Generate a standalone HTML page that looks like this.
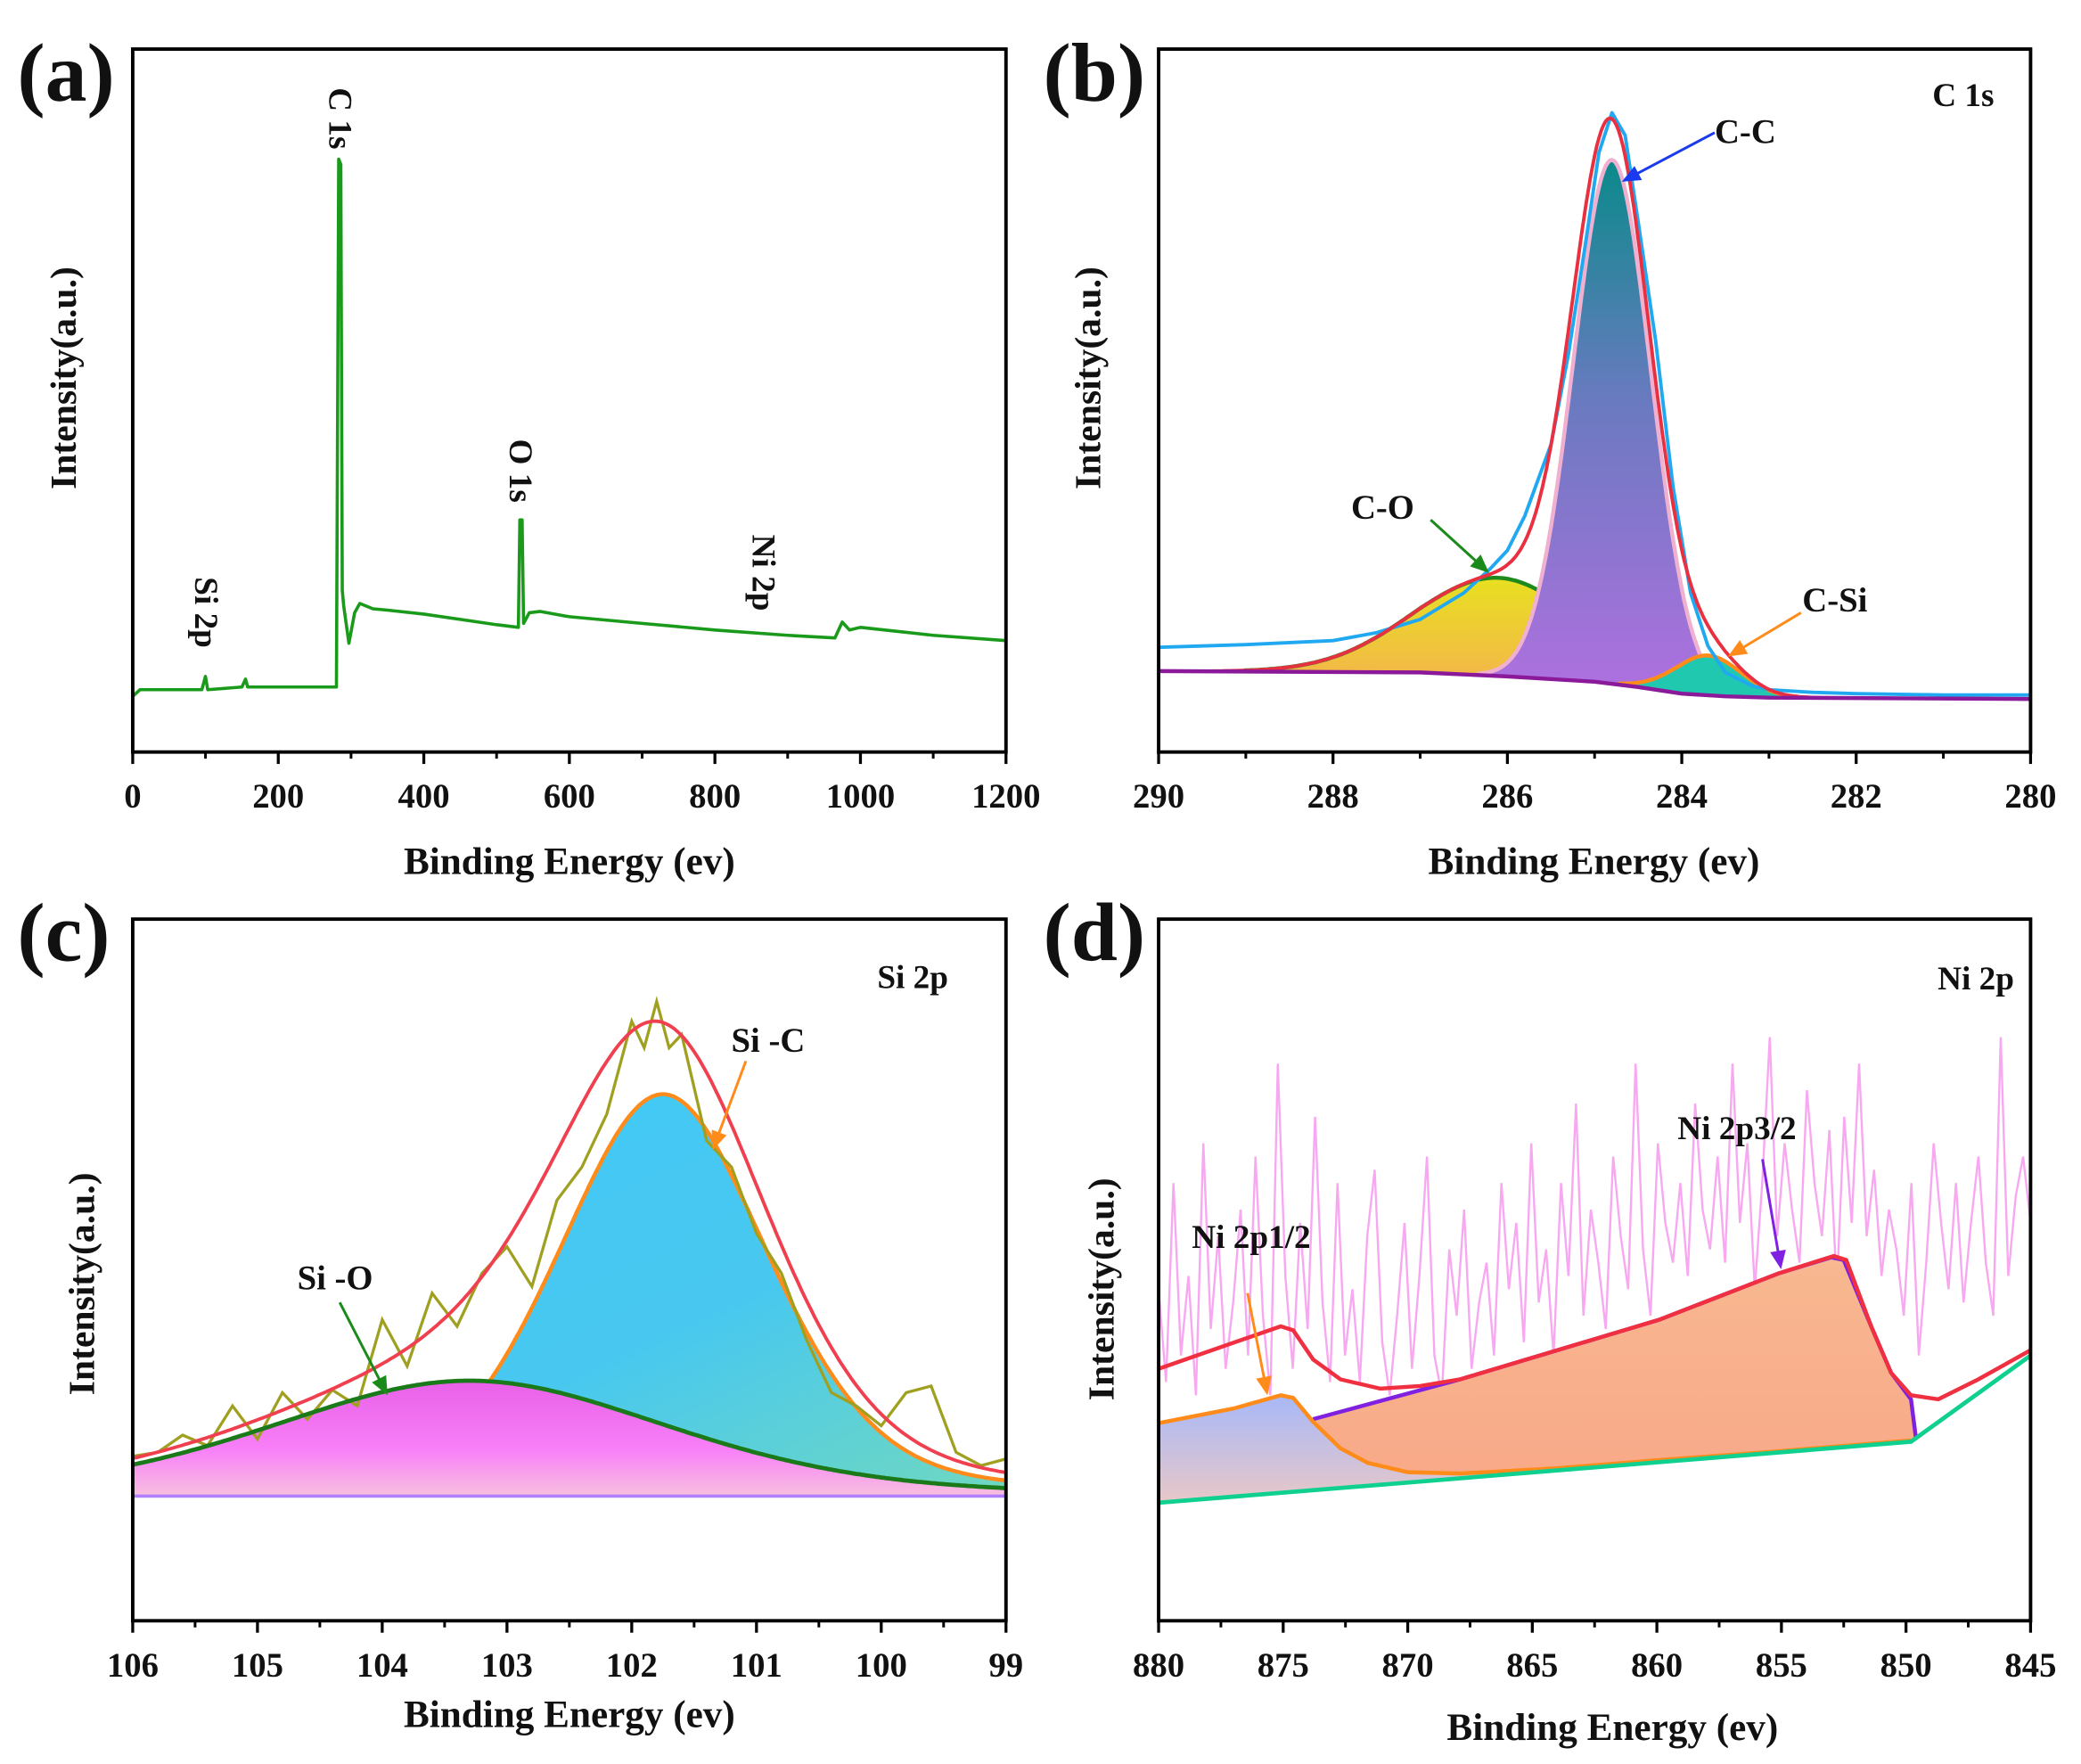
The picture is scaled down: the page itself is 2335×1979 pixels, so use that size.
<!DOCTYPE html>
<html><head><meta charset="utf-8"><style>
html,body{margin:0;padding:0;background:#fff}
svg{display:block}
text{font-family:"Liberation Serif",serif;font-weight:bold;fill:#111}
</style></head><body>
<svg id="fig" width="2335" height="1979" viewBox="0 0 1568 1330" preserveAspectRatio="none" xmlns="http://www.w3.org/2000/svg">
<defs>
<linearGradient id="gCC" x1="0" y1="0" x2="0" y2="1"><stop offset="0" stop-color="#0a8a8a"/><stop offset="0.45" stop-color="#6a7ac0"/><stop offset="1" stop-color="#b070e0"/></linearGradient>
<linearGradient id="gCO" x1="0" y1="0" x2="0" y2="1"><stop offset="0" stop-color="#e8e020"/><stop offset="1" stop-color="#f5b050"/></linearGradient>
<linearGradient id="gSiC" x1="0" y1="0" x2="1" y2="1"><stop offset="0" stop-color="#40c8f8"/><stop offset="0.6" stop-color="#48c8f0"/><stop offset="1" stop-color="#70d8c0"/></linearGradient>
<linearGradient id="gSiO" x1="0" y1="0" x2="0" y2="1"><stop offset="0" stop-color="#e860e8"/><stop offset="0.6" stop-color="#f880f8"/><stop offset="1" stop-color="#f8c0e0"/></linearGradient>
<linearGradient id="gN1" x1="0" y1="0" x2="0" y2="1"><stop offset="0" stop-color="#a8b8f8"/><stop offset="1" stop-color="#e8c8c8"/></linearGradient>
<linearGradient id="gN3" x1="0" y1="0" x2="0" y2="1"><stop offset="0" stop-color="#f8b890"/><stop offset="1" stop-color="#f8a888"/></linearGradient>
</defs>
</svg>
<script>
// ---------- DATA (values = intensity, arbitrary units) ----------
// Panel a: survey
const surveyE = [0,10,95,100,103,150,155,158,200,280,283,286,288,290,297,305,312,330,350,400,450,500,530,532,535,537,545,560,600,700,800,900,965,975,985,1000,1100,1200];
const surveyI = [42,47,47,57,47,49,55,49,49,49,447,443,122,110,82,105,112,108,107,104,100,96,94,175,175,97,105,106,102,97,92,88,86,98,92,94,88,84];
// Panel b: C 1s
const c1sRawE = [290,289,288,287.5,287,286.5,286.2,286,285.8,285.5,285.3,285.1,284.95,284.8,284.65,284.5,284.3,284.1,283.9,283.7,283.5,283.2,283,282.5,282,281,280];
const c1sRawI = [79,81,84,90,100,120,138,152,178,232,300,385,452,482,465,400,310,200,120,80,60,50,47,45,44,43,43];
const c1sBgE = [290,287,286,285,284.5,284,283.5,283,280];
const c1sBgI = [61,60,57,53,49,44,42,41,40];
const c1sPeakNames = ["C-C","C-O","C-Si"];
const c1sCenters = [284.8,286.1,283.7];
const c1sHeights = [395,74,30];
const c1sFwhm = [1.05,2.3,0.9];
// Panel c: Si 2p
const si2pRawE = [106,105.8,105.6,105.4,105.2,105,104.8,104.6,104.4,104.2,104,103.8,103.6,103.4,103.2,103,102.8,102.6,102.4,102.2,102,101.9,101.8,101.7,101.6,101.4,101.2,101,100.8,100.6,100.4,100.2,100,99.8,99.6,99.4,99.2,99];
const si2pRawI = [124,127,140,132,162,137,172,152,174,162,227,192,247,222,262,282,252,317,342,382,452,432,467,432,442,362,342,292,262,212,172,162,147,172,177,127,117,122];
const si2pBase = 94;
const si2pPeakNames = ["Si -O","Si -C"];
const si2pCenters = [103.3,101.75];
const si2pHeights = [87,303];
const si2pFwhm = [3.8,2.0];
const si2pLorentz = [0.3,0.3];
// Panel d: Ni 2p
const ni2pBgE = [880,849.8,845];
const ni2pBgI = [89,135,200];
const ni2p12E = [880,877,875.1,874.6,873.8,872.7,871.6,870,867.9,864,860,855,849.8];
const ni2p12I = [149,160,170,168,150,130,119,112,111,115,121,128,136];
const ni2p32E = [873.8,867.9,859.9,855.1,853,852.5,851.4,850.6,849.8,849.6];
const ni2p32I = [152,182,227,262,274,272,222,187,167,137];
const ni2pEnvE = [880,875.1,874.6,873.8,872.7,871.1,869.5,867.9,859.9,855.1,852.9,852.4,851.4,850.6,849.8,848.7,847.1,845];
const ni2pEnvI = [190,222,219,197,182,175,177,182,227,262,275,272,222,187,170,167,182,204];
const ni2pRawI = [250,180,330,200,260,170,360,220,290,190,240,310,200,350,230,170,420,260,190,300,220,380,240,180,330,200,250,180,290,340,210,170,230,300,190,260,350,200,170,280,230,310,190,240,270,200,330,250,300,210,360,240,280,200,330,260,390,230,310,270,220,350,290,250,420,280,230,360,300,270,330,260,390,310,280,350,270,420,300,360,250,330,440,290,360,310,270,400,330,290,370,250,380,300,420,290,340,260,310,280,230,330,200,270,360,300,250,330,240,300,350,270,230,440,260,320,350,300];

// ---------- HELPERS ----------
const svg = document.getElementById('fig');
const NS = 'http://www.w3.org/2000/svg';
function mk(tag, attrs, parent){const e=document.createElementNS(NS,tag);for(const k in attrs)e.setAttribute(k,attrs[k]);(parent||svg).appendChild(e);return e;}
function panel(L,R,T,B,x0,x1,yMax){return {L,R,T,B,x:v=>L+(v-x0)/(x1-x0)*(R-L),y:v=>B-v*(B-T)/yMax};}
function pathFrom(p,E,I){return E.map((e,i)=>(i?'L':'M')+p.x(e).toFixed(1)+' '+p.y(I[i]).toFixed(1)).join(' ');}
function interp(E,I,e){for(let i=0;i<E.length-1;i++){const a=E[i],b=E[i+1];if((e-a)*(e-b)<=0){const t=(e-a)/(b-a||1);return I[i]+t*(I[i+1]-I[i]);}}return Math.abs(e-E[0])<Math.abs(e-E[E.length-1])?I[0]:I[I.length-1];}
function gauss(e,c,h,f,m){const g=Math.exp(-4*Math.LN2*Math.pow((e-c)/f,2));const l=1/(1+Math.pow(2*(e-c)/f,2));return h*((1-(m||0))*g+(m||0)*l);}
function frame(p,ticks,minor,labels,name){
  const g=mk('g',{});  
  mk('rect',{x:p.L,y:p.T,width:p.R-p.L,height:p.B-p.T,fill:'none',stroke:'#000','stroke-width':2.6},g);
  minor.forEach(v=>mk('line',{x1:p.x(v),x2:p.x(v),y1:p.B,y2:p.B+5,stroke:'#000','stroke-width':2},g));
  ticks.forEach((v,i)=>{mk('line',{x1:p.x(v),x2:p.x(v),y1:p.B,y2:p.B+9,stroke:'#000','stroke-width':2.2},g);
    const t=mk('text',{x:p.x(v),y:p.B+42,'text-anchor':'middle','font-size':26},g);t.textContent=labels[i];
     });
}
function txt(x,y,s,size,name,rot,anchor){const t=mk('text',{x,y,'font-size':size,'text-anchor':anchor||'start'});if(rot)t.setAttribute('transform',`rotate(${rot} ${x} ${y})`);t.textContent=s;
   return t;}
function arrow(x1,y1,x2,y2,col,name){const g=mk('g',{});
  const a=Math.atan2(y2-y1,x2-x1),L=14,W=6;
  mk('line',{x1,y1,x2:x2-L*Math.cos(a)*0.8,y2:y2-L*Math.sin(a)*0.8,stroke:col,'stroke-width':2},g);
  mk('polygon',{points:`${x2},${y2} ${x2-L*Math.cos(a)+W*Math.sin(a)},${y2-L*Math.sin(a)-W*Math.cos(a)} ${x2-L*Math.cos(a)-W*Math.sin(a)},${y2-L*Math.sin(a)+W*Math.cos(a)}`,fill:col},g);}
function range(a,b,s){const r=[];for(let v=a;s>0?v<=b+1e-9:v>=b-1e-9;v+=s)r.push(+v.toFixed(3));return r;}
function dense(a,b,n){const r=[];for(let i=0;i<=n;i++)r.push(a+(b-a)*i/n);return r;}

// ---------- PANEL A ----------
const pa=panel(100,758,37,567,0,1200,530);
let e;
e=mk('path',{d:pathFrom(pa,surveyE,surveyI),fill:'none',stroke:'#1a9a1a','stroke-width':2.4,'stroke-linejoin':'round'});
 
frame(pa,range(0,1200,200),range(100,1100,200),range(0,1200,200).map(String),'panel-a');
txt(13,76,'(a)',63,'panel-a-letter');
txt(248,66,'C 1s',25,'c1s-peak-label',90);
txt(384,331,'O 1s',25,'o1s-peak-label',90);
txt(147,435,'Si 2p',25,'si2p-peak-label',90);
txt(567,403,'Ni 2p',25,'ni2p-peak-label',90);
txt(429,659,'Binding Energy (ev)',29,'panel-a-x-axis-title',0,'middle');
txt(57,285,'Intensity(a.u.)',28,'panel-a-y-axis-title',-90,'middle');

// ---------- PANEL B ----------
const pb=panel(873,1530,37,567,290,280,530);
const bE=dense(290,280,400);
const bBg=bE.map(v=>interp(c1sBgE,c1sBgI,v));
function compPoly(p,E,base,c,h,f,m,thr){const top=E.map((v,i)=>base[i]+gauss(v,c,h,f,m));
  const idx=E.map((v,i)=>i).filter(i=>top[i]-base[i]>thr);const a=idx[0],b=idx[idx.length-1];
  let d='';for(let i=a;i<=b;i++)d+=(i===a?'M':'L')+p.x(E[i]).toFixed(1)+' '+p.y(top[i]).toFixed(1);
  let fill=d;for(let i=b;i>=a;i--)fill+='L'+p.x(E[i]).toFixed(1)+' '+p.y(base[i]).toFixed(1);return {line:d,fill:fill+'Z'};}
const bCols=[{f:'url(#gCC)',s:'#f0b0d0'},{f:'url(#gCO)',s:'#1e8a1e'},{f:'#20c8b0',s:'#ff8c1a'}];
const order=[1,0,2];
order.forEach(k=>{const r=compPoly(pb,bE,bBg,c1sCenters[k],c1sHeights[k],c1sFwhm[k],0,0.8);
  const f=mk('path',{d:r.fill,fill:bCols[k].f,stroke:'none'});  
  const l=mk('path',{d:r.line,fill:'none',stroke:bCols[k].s,'stroke-width':3});  });
e=mk('path',{d:pathFrom(pb,c1sRawE,c1sRawI),fill:'none',stroke:'#20a8f0','stroke-width':2.6,'stroke-linejoin':'round'});  
const bEnv=bE.map((v,i)=>bBg[i]+c1sCenters.reduce((s,c,k)=>s+gauss(v,c,c1sHeights[k],c1sFwhm[k]),0));
e=mk('path',{d:pathFrom(pb,bE,bEnv),fill:'none',stroke:'#e83040','stroke-width':2.6});  
e=mk('path',{d:pathFrom(pb,c1sBgE,c1sBgI),fill:'none',stroke:'#8a1a9a','stroke-width':3});  
frame(pb,range(290,280,-2),range(289,281,-2),range(290,280,-2).map(String),'panel-b');
txt(786,76,'(b)',63,'panel-b-letter');
txt(1456,80,'C 1s',25,'panel-b-title');
txt(1292,108,'C-C',26,'cc-label'); arrow(1292,100,1222,137,'#1a3af0','cc-arrow');
txt(1018,391,'C-O',26,'co-label'); arrow(1078,392,1122,432,'#1a8a1a','co-arrow');
txt(1358,461,'C-Si',26,'csi-label'); arrow(1357,462,1302,495,'#ff8c1a','csi-arrow');
txt(1201,659,'Binding Energy (ev)',29,'panel-b-x-axis-title',0,'middle');
txt(829,285,'Intensity(a.u.)',28,'panel-b-y-axis-title',-90,'middle');

// ---------- PANEL C ----------
const pc=panel(100,758,693,1222,106,99,529);
const cE=dense(106,99,350);
const cBase=cE.map(()=>si2pBase);
const siO=cE.map(v=>gauss(v,si2pCenters[0],si2pHeights[0],si2pFwhm[0],si2pLorentz[0]));
const siC=cE.map(v=>gauss(v,si2pCenters[1],si2pHeights[1],si2pFwhm[1],si2pLorentz[1]));
function polyTop(p,E,top,base){let d=pathFrom(p,E,top);for(let i=E.length-1;i>=0;i--)d+='L'+p.x(E[i]).toFixed(1)+' '+p.y(base[i]).toFixed(1);return d+'Z';}
const siCtop=siC.map(v=>si2pBase+v), siOtop=siO.map(v=>si2pBase+v);
e=mk('path',{d:polyTop(pc,cE,siCtop,cBase),fill:'url(#gSiC)'});  
e=mk('path',{d:polyTop(pc,cE,siOtop,cBase),fill:'url(#gSiO)'});  
const visC=cE.map((v,i)=>i).filter(i=>siCtop[i]>=siOtop[i]);
e=mk('path',{d:pathFrom(pc,visC.map(i=>cE[i]),visC.map(i=>siCtop[i])),fill:'none',stroke:'#ff8c1a','stroke-width':3});  
e=mk('line',{x1:pc.L,x2:pc.R,y1:pc.y(si2pBase),y2:pc.y(si2pBase),stroke:'#b080ff','stroke-width':2.5});  
e=mk('path',{d:pathFrom(pc,si2pRawE,si2pRawI),fill:'none',stroke:'#a0a020','stroke-width':2.2});  
e=mk('path',{d:pathFrom(pc,cE,cE.map((v,i)=>si2pBase+siO[i]+siC[i])),fill:'none',stroke:'#f04050','stroke-width':2.6});  
e=mk('path',{d:pathFrom(pc,cE,siOtop),fill:'none',stroke:'#1a7a1a','stroke-width':3.2});  
frame(pc,range(106,99,-1),range(105.5,99.5,-1),range(106,99,-1).map(String),'panel-c');
txt(13,724,'(c)',63,'panel-c-letter');
txt(661,745,'Si 2p',25,'panel-c-title');
txt(551,793,'Si -C',26,'si-c-label'); arrow(562,800,537,867,'#ff8c1a','si-c-arrow');
txt(224,972,'Si -O',26,'si-o-label'); arrow(256,982,292,1052,'#1a8a1a','si-o-arrow');
txt(429,1302,'Binding Energy (ev)',29,'panel-c-x-axis-title',0,'middle');
txt(71,968,'Intensity(a.u.)',28,'panel-c-y-axis-title',-90,'middle');

// ---------- PANEL D ----------
const pd=panel(873,1530,693,1222,880,845,529);
const rawE=ni2pRawI.map((v,i)=>880-i*35/(ni2pRawI.length-1));
e=mk('path',{d:pathFrom(pd,rawE,ni2pRawI),fill:'none',stroke:'#f8a8f0','stroke-width':1.6});  
const n3base=ni2p32E.map(v=>interp(ni2pBgE,ni2pBgI,v));
e=mk('path',{d:polyTop(pd,ni2p32E,ni2p32I,n3base),fill:'url(#gN3)'});  
const n1base=ni2p12E.map(v=>interp(ni2pBgE,ni2pBgI,v));
e=mk('path',{d:polyTop(pd,ni2p12E,ni2p12I,n1base),fill:'url(#gN1)'});  
e=mk('path',{d:pathFrom(pd,ni2p32E,ni2p32I),fill:'none',stroke:'#8020e0','stroke-width':3});  
e=mk('path',{d:pathFrom(pd,ni2p12E,ni2p12I),fill:'none',stroke:'#ff8c1a','stroke-width':3});  
e=mk('path',{d:pathFrom(pd,ni2pEnvE,ni2pEnvI),fill:'none',stroke:'#f03040','stroke-width':3});  
e=mk('path',{d:pathFrom(pd,ni2pBgE,ni2pBgI),fill:'none',stroke:'#10d090','stroke-width':3.2});  
frame(pd,range(880,845,-5),range(877.5,847.5,-5),range(880,845,-5).map(String),'panel-d');
txt(786,724,'(d)',63,'panel-d-letter');
txt(1460,746,'Ni 2p',25,'panel-d-title');
txt(1264,859,'Ni 2p3/2',25,'ni2p32-label'); arrow(1328,874,1342,957,'#8020e0','ni2p32-arrow');
txt(898,941,'Ni 2p1/2',25,'ni2p12-label'); arrow(940,975,955,1052,'#ff8c1a','ni2p12-arrow');
txt(1215,1312,'Binding Energy (ev)',29,'panel-d-x-axis-title',0,'middle');
txt(839,972,'Intensity(a.u.)',28,'panel-d-y-axis-title',-90,'middle');
</script>
</body></html>
